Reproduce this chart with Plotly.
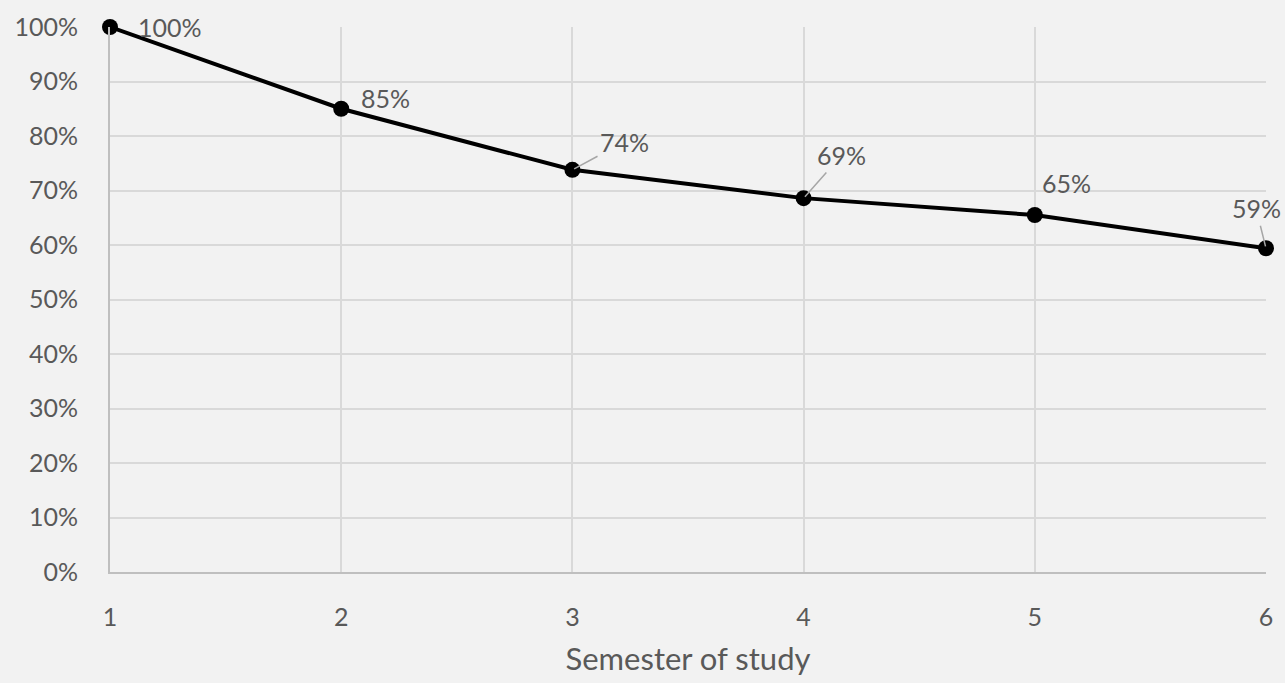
import plotly.graph_objects as go

semesters = [1, 2, 3, 4, 5, 6]
retention = [1.00, 0.85, 0.738, 0.686, 0.655, 0.594]
labels = ["100%", "85%", "74%", "69%", "65%", "59%"]
y_ticks = [0, 0.1, 0.2, 0.3, 0.4, 0.5, 0.6, 0.7, 0.8, 0.9, 1.0]

FONT = "Lato, Open Sans, sans-serif"
TXT = "#595959"
BG = "#f2f2f2"
FS = 25

fig = go.Figure()
fig.add_trace(go.Scatter(
    x=semesters, y=retention, mode="lines+markers",
    line=dict(color="black", width=4),
    marker=dict(color="black", size=16),
    cliponaxis=False, hoverinfo="skip", showlegend=False,
))

# label offsets (pixels) relative to each point: (ax, ay, leader)
offsets = [(60, 0, False), (44, -11, False), (52, -28, True),
           (38, -43, True), (32, -32, False), (-10, -40, True)]
for x, y, lab, (ax, ay, lead) in zip(semesters, retention, labels, offsets):
    if lead:
        fig.add_annotation(x=x, y=y, text=lab, showarrow=True, ax=ax, ay=ay,
                           arrowhead=0, arrowwidth=1.5, arrowcolor="#a6a6a6",
                           standoff=2, startstandoff=1,
                           font=dict(family=FONT, size=FS, color=TXT))
    else:
        fig.add_annotation(x=x, y=y, text=lab, showarrow=False,
                           xshift=ax, yshift=-ay,
                           font=dict(family=FONT, size=FS, color=TXT))

fig.update_layout(
    width=1285, height=683,
    paper_bgcolor=BG, plot_bgcolor=BG,
    margin=dict(l=110, r=19, t=27, b=111),
    font=dict(family=FONT, size=FS, color=TXT),
    xaxis=dict(
        range=[1, 6], tickvals=semesters, ticktext=[str(s) for s in semesters],
        showgrid=True, gridcolor="#d9d9d9", gridwidth=1.5,
        showline=True, linecolor="#bfbfbf", linewidth=2,
        zeroline=False, ticks="", ticklabelstandoff=22,
        tickfont=dict(family=FONT, size=FS, color=TXT),
        title=dict(text="Semester of study", standoff=18,
                   font=dict(family=FONT, size=31, color=TXT)),
    ),
    yaxis=dict(
        range=[0, 1], tickvals=y_ticks, tickformat=".0%",
        showgrid=True, gridcolor="#d9d9d9", gridwidth=1.5,
        showline=True, linecolor="#bfbfbf", linewidth=2,
        zeroline=False, ticks="", ticklabelstandoff=25,
        tickfont=dict(family=FONT, size=FS, color=TXT),
    ),
)

fig.write_html("out.html", config={"displayModeBar": False})
with open("out.html", encoding="utf-8") as f:
    html = f.read()
html = html.replace("<body>", '<body style="margin:0;padding:0;overflow:hidden">', 1)
with open("out.html", "w", encoding="utf-8") as f:
    f.write(html)
